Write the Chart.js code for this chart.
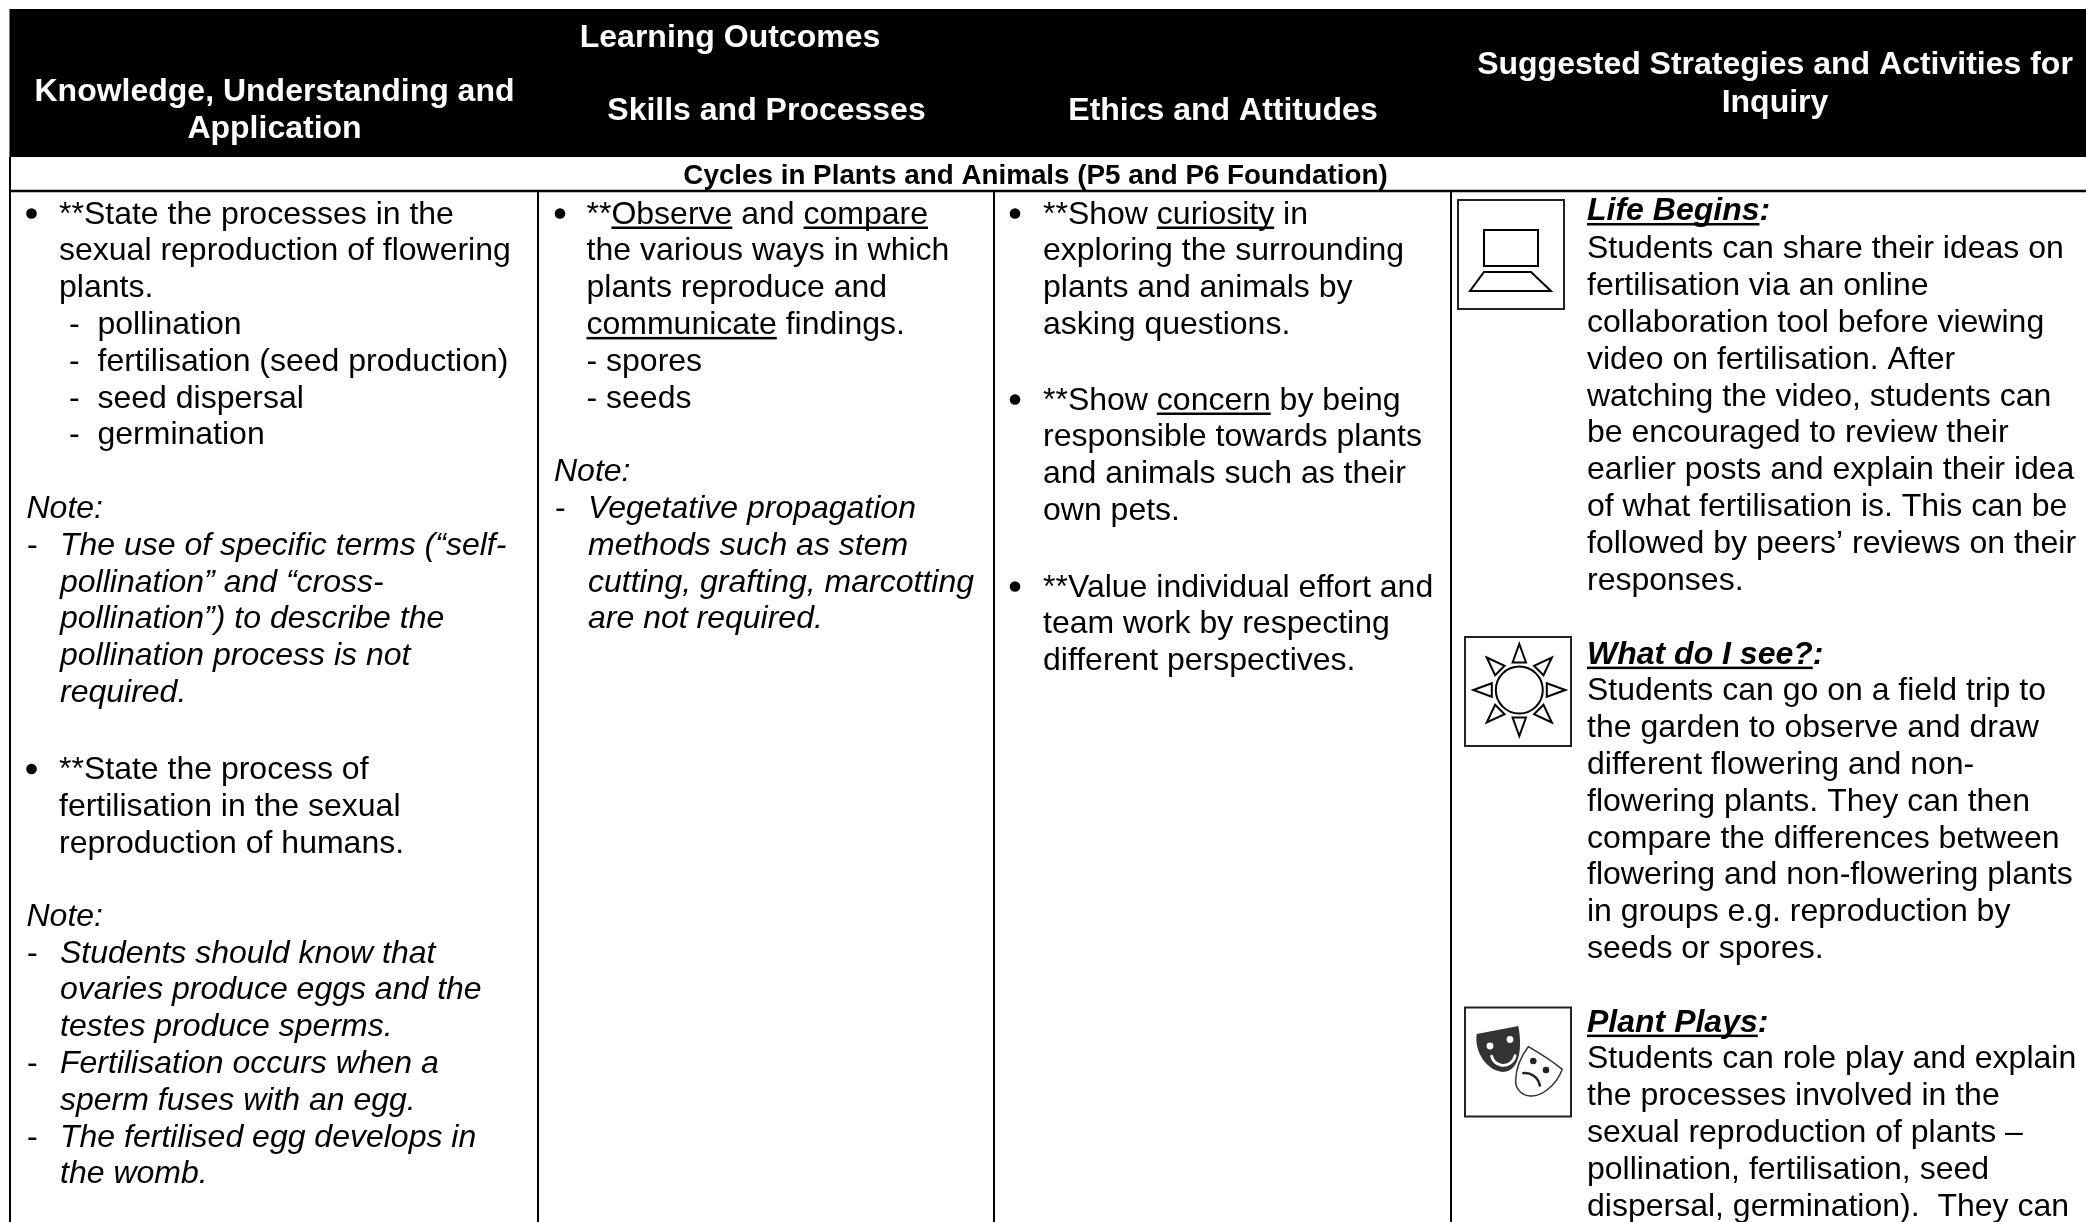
<!DOCTYPE html>
<html><head><meta charset="utf-8">
<style>html,body{margin:0;padding:0;background:#fff}canvas{display:block}</style>
<script src="https://cdn.jsdelivr.net/npm/chart.js@4"></script></head>
<body><canvas id="c" width="2086" height="1222"></canvas>
<script>
// line kinds: B bullet, C continuation, S sub-list, N note head, D note dash, E note continuation, H activity heading, T activity text
// "+n" is a blank paragraph line carrying n extra units of spacing
const sectionTitle = "Cycles in Plants and Animals (P5 and P6 Foundation)";
const headerOutcomes = "Learning Outcomes";
const knowledgeLines = [
"B|**State the processes in the","C|sexual reproduction of flowering","C|plants.",
"S|pollination","S|fertilisation (seed production)","S|seed dispersal","S|germination","+0",
"N|Note:","D|The use of specific terms (“self-","E|pollination” and “cross-","E|pollination”) to describe the","E|pollination process is not","E|required.","+3.5",
"B|**State the process of","C|fertilisation in the sexual","C|reproduction of humans.","+-0.5",
"N|Note:","D|Students should know that","E|ovaries produce eggs and the","E|testes produce sperms.",
"D|Fertilisation occurs when a","E|sperm fuses with an egg.","D|The fertilised egg develops in","E|the womb."];
const skillsLines = [
"B|**__Observe__ and __compare__","C|the various ways in which","C|plants reproduce and","C|__communicate__ findings.",
"C|- spores","C|- seeds","+0","N|Note:","D|Vegetative propagation","E|methods such as stem","E|cutting, grafting, marcotting","E|are not required."];
const ethicsLines = [
"B|**Show __curiosity__ in","C|exploring the surrounding","C|plants and animals by","C|asking questions.","+2",
"B|**Show __concern__ by being","C|responsible towards plants","C|and animals such as their","C|own pets.","+3",
"B|**Value individual effort and","C|team work by respecting","C|different perspectives."];
const strategyLines = [
"H|Life Begins","T|Students can share their ideas on","T|fertilisation via an online","T|collaboration tool before viewing","T|video on fertilisation. After","T|watching the video, students can","T|be encouraged to review their","T|earlier posts and explain their idea","T|of what fertilisation is. This can be","T|followed by peers’ reviews on their","T|responses.","+0.5",
"H|What do I see?","T|Students can go on a field trip to","T|the garden to observe and draw","T|different flowering and non-","T|flowering plants. They can then","T|compare the differences between","T|flowering and non-flowering plants","T|in groups e.g. reproduction by","T|seeds or spores.","+0",
"H|Plant Plays","T|Students can role play and explain","T|the processes involved in the","T|sexual reproduction of plants –","T|pollination, fertilisation, seed","T|dispersal, germination).  They can"];
const columnDividers = [538, 994, 1451];

const F = '"Liberation Sans", Arial, sans-serif';
const PITCH = 36.8, SIZE = 32;
const layouts = [
 {lines:knowledgeLines, y:223.5, bullet:31.5, text:59, sub:69, subText:97.5, note:26.5, dash:27, noteText:60},
 {lines:skillsLines, y:223.5, bullet:560, text:586.5, note:554, dash:555, noteText:588},
 {lines:ethicsLines, y:223.5, bullet:1015, text:1043},
 {lines:strategyLines, y:221.5, text:1587}
];
const headerTexts = [
 ["Knowledge, Understanding and",274.5,101],["Application",274.5,138],
 [headerOutcomes,730,47],["Skills and Processes",766.5,120],["Ethics and Attitudes",1223,120],
 ["Suggested Strategies and Activities for",1775,74],["Inquiry",1775,112]];

const tablePlugin = {
 id:'table',
 beforeDatasetsDraw(ch){
  const g=ch.ctx, X=v=>ch.scales.x.getPixelForValue(v), Y=v=>ch.scales.y.getPixelForValue(v);
  g.save();
  g.fillStyle='#fff'; g.fillRect(X(0),Y(0),X(2086)-X(0),Y(1222)-Y(0));
  g.fillStyle='#000'; g.fillRect(X(9.5),Y(9),X(2086)-X(9.5),Y(157)-Y(9));
  g.restore();
 },
 afterDatasetsDraw(ch){
  const g=ch.ctx, X=v=>ch.scales.x.getPixelForValue(v), Y=v=>ch.scales.y.getPixelForValue(v);
  g.save();
  g.textBaseline='alphabetic';
  g.fillStyle='#fff'; g.textAlign='center'; g.font='bold 32px '+F;
  headerTexts.forEach(([t,x,y])=>g.fillText(t,X(x),Y(y)));
  g.fillStyle='#000'; g.font='bold 27.8px '+F;
  g.fillText(sectionTitle,X(1035.5),Y(184));
  g.textAlign='left';
  const seg=(s,x,y,font)=>{
    g.font=font; let cx=x;
    s.split(/(__.*?__)/).filter(Boolean).forEach(p=>{
      const u=p.startsWith('__'); const t=u?p.slice(2,-2):p; const w=g.measureText(t).width;
      g.fillText(t,X(cx),Y(y));
      if(u) g.fillRect(X(cx),Y(y+3),w,2.5);
      cx+=w;
    });
  };
  layouts.forEach(L=>{
    let extra=0;
    L.lines.forEach((ln,i)=>{
      if(ln[0]==='+'){ extra+=parseFloat(ln.slice(1)); return; }
      const k=ln[0], s=ln.slice(2), y=L.y+i*PITCH+extra;
      const reg=SIZE+'px '+F, it='italic '+SIZE+'px '+F;
      if(k==='B'){ g.beginPath(); g.arc(X(L.bullet),Y(y-10),5.3,0,Math.PI*2); g.fill(); seg(s,L.text,y,reg); }
      if(k==='C'||k==='T') seg(s,L.text,y,reg);
      if(k==='S'){ g.font=reg; g.fillText('-',X(L.sub),Y(y)); seg(s,L.subText,y,reg); }
      if(k==='N') seg(s,L.note,y,it);
      if(k==='D'){ g.font=reg; g.fillText('-',X(L.dash),Y(y)); seg(s,L.noteText,y,it); }
      if(k==='E') seg(s,L.noteText,y,it);
      if(k==='H'){ seg('__'+s+'__:',L.text,i===0?y-1.5:y,'italic bold '+SIZE+'px '+F); }
    });
  });
  // icon boxes
  g.strokeStyle='#222'; g.lineWidth=2; g.lineJoin='miter';
  [[1458,200,106,109],[1465,637,106,109],[1465,1007.5,106,109]].forEach(b=>g.strokeRect(X(b[0]),Y(b[1]),b[2],b[3]));
  g.strokeStyle='#000'; g.lineWidth=2;
  // laptop
  g.strokeRect(X(1484),Y(230),54,36);
  g.beginPath(); g.moveTo(X(1484),Y(272)); g.lineTo(X(1531),Y(272)); g.lineTo(X(1551),Y(291)); g.lineTo(X(1470),Y(291)); g.closePath(); g.stroke();
  // sun
  const cx=1519.3, cy=690;
  g.beginPath(); g.arc(X(cx),Y(cy),23.5,0,Math.PI*2); g.stroke();
  for(let a=0;a<8;a++){
    const t=a*Math.PI/4, r0=27.5, r1=46, hw=6.7;
    const c=Math.cos(t), s=Math.sin(t);
    g.beginPath();
    g.moveTo(X(cx+c*r1),Y(cy+s*r1));
    g.lineTo(X(cx+c*r0-s*hw),Y(cy+s*r0+c*hw));
    g.lineTo(X(cx+c*r0+s*hw),Y(cy+s*r0-c*hw));
    g.closePath(); g.stroke();
  }
  // happy mask
  g.fillStyle='#333';
  g.beginPath(); g.moveTo(X(1476.7),Y(1034));
  g.lineTo(X(1518.3),Y(1026));
  g.bezierCurveTo(X(1522),Y(1045),X(1521),Y(1071),X(1503),Y(1072));
  g.bezierCurveTo(X(1487),Y(1071),X(1474),Y(1052),X(1476.7),Y(1034));
  g.closePath(); g.fill();
  g.fillStyle='#fff';
  g.beginPath(); g.arc(X(1490),Y(1046),3.4,0,7); g.fill();
  g.beginPath(); g.arc(X(1510),Y(1039.5),3.4,0,7); g.fill();
  g.strokeStyle='#fff'; g.lineWidth=2.8; g.lineCap='round';
  g.beginPath(); g.arc(X(1503.3),Y(1053.3),12,0.2,2.9); g.stroke();
  g.lineCap='butt';
  // sad mask
  g.strokeStyle='#333'; g.lineWidth=1.5; g.fillStyle='#fff';
  g.beginPath(); g.moveTo(X(1528.3),Y(1046.7));
  g.quadraticCurveTo(X(1548),Y(1058),X(1562.3),Y(1069.3));
  g.bezierCurveTo(X(1556),Y(1086),X(1541),Y(1097),X(1530),Y(1096));
  g.bezierCurveTo(X(1519),Y(1095),X(1515),Y(1086),X(1515.7),Y(1080));
  g.bezierCurveTo(X(1516),Y(1066),X(1522),Y(1055),X(1528.3),Y(1046.7));
  g.closePath(); g.fill(); g.stroke();
  g.fillStyle='#222';
  g.beginPath(); g.arc(X(1533.3),Y(1061),3.3,0,7); g.fill();
  g.beginPath(); g.arc(X(1546),Y(1070),3.3,0,7); g.fill();
  g.strokeStyle='#222'; g.lineWidth=2.5; g.beginPath(); g.arc(X(1525),Y(1088),15,-1.75,-0.1); g.stroke();
  g.restore();
 }
};

const rule=(pts,w)=>({data:pts,showLine:true,borderColor:'#000',borderWidth:w,pointRadius:0,fill:false,tension:0});
new Chart(document.getElementById('c'),{
 type:'scatter',
 data:{datasets:[
  ...columnDividers.map(v=>rule([{x:v,y:191},{x:v,y:1222}],2)),
  rule([{x:10,y:157},{x:10,y:1222}],2),
  rule([{x:9,y:191},{x:2086,y:191}],2.5)
 ]},
 options:{
  responsive:false,animation:false,devicePixelRatio:1,
  layout:{padding:0},
  plugins:{legend:{display:false},tooltip:{enabled:false},title:{display:false}},
  scales:{
   x:{type:'linear',min:0,max:2086,display:false},
   y:{type:'linear',min:0,max:1222,reverse:true,display:false}
  }
 },
 plugins:[tablePlugin]
});
</script></body></html>
